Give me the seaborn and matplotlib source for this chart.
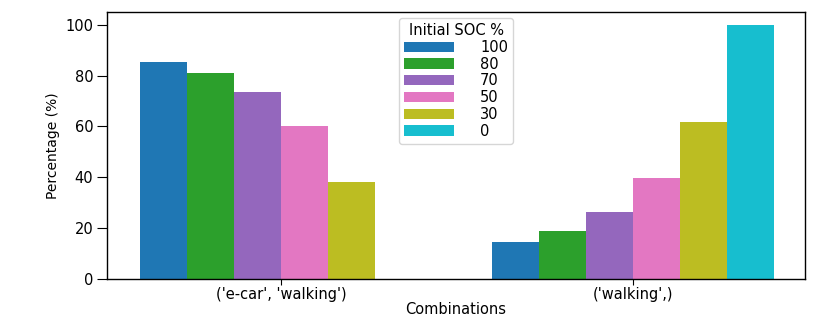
import pandas as pd
import matplotlib
matplotlib.use("Agg")
import matplotlib.pyplot as plt
import seaborn as sns

# values
combinations = ["('e-car', 'walking')", "('walking',)"]
soc_levels = ["100", "80", "70", "50", "30", "0"]
ecar_walking = [85.4, 81.1, 73.6, 60.2, 38.2, 0.0]
walking_only = [14.6, 18.9, 26.4, 39.8, 61.8, 100.0]

colors = ["#1f77b4", "#2ca02c", "#9467bd", "#e377c2", "#bcbd22", "#17becf"]

rows = []
for soc, a, b in zip(soc_levels, ecar_walking, walking_only):
    rows.append({"Combinations": combinations[0], "Initial SOC %": soc, "Percentage": a})
    rows.append({"Combinations": combinations[1], "Initial SOC %": soc, "Percentage": b})
df = pd.DataFrame(rows)

sns.set_style("ticks")
plt.rcParams["font.family"] = ["DejaVu Sans"]
plt.rcParams["text.color"] = "black"
plt.rcParams["axes.labelcolor"] = "black"
plt.rcParams["xtick.color"] = "black"
plt.rcParams["ytick.color"] = "black"

fig = plt.figure(figsize=(8.3, 3.27), dpi=100)
ax = fig.add_axes([0.129, 0.147, 0.841, 0.816])

sns.barplot(data=df, x="Combinations", y="Percentage", hue="Initial SOC %",
            hue_order=soc_levels, order=combinations, palette=colors,
            saturation=1, width=0.8, linewidth=0, ax=ax)

ax.set_xlim(-0.494, 1.489)
ax.set_ylim(0, 105)
ax.set_xlabel("Combinations", fontsize=10.5, labelpad=0)
ax.set_ylabel("Percentage (%)", fontsize=10)
ax.tick_params(axis="x", labelsize=10.5, pad=2, length=4)
ax.tick_params(axis="y", labelsize=10.5, length=7, pad=3)
for s in ax.spines.values():
    s.set_linewidth(1.0)
    s.set_color("black")

leg = ax.legend(title="Initial SOC %", loc="upper center", fontsize=10.5,
                title_fontsize=10.5, handlelength=3.4, handletextpad=1.8,
                labelspacing=0.12, borderpad=0.35, borderaxespad=0.4)

fig.savefig("out.png", dpi=100)
